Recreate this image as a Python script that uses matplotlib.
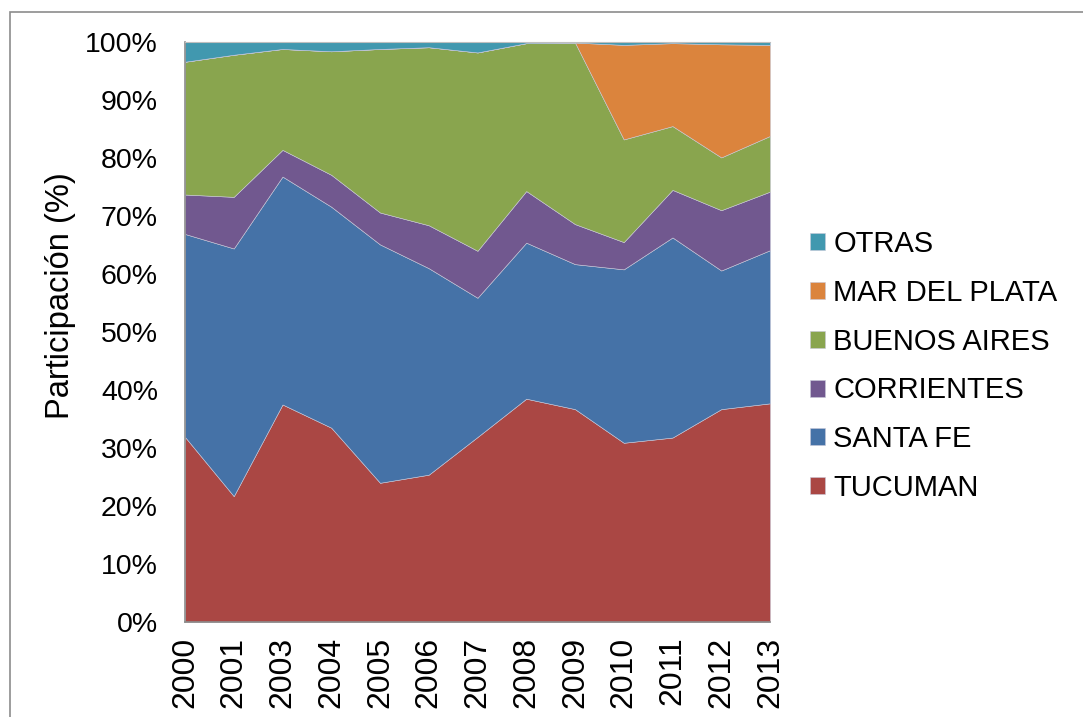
import matplotlib
matplotlib.use("Agg")
import matplotlib.pyplot as plt
from matplotlib.patches import Rectangle
from matplotlib.ticker import FuncFormatter

plt.rcParams['font.family'] = ['Liberation Sans', 'DejaVu Sans']

years = ["2000", "2001", "2003", "2004", "2005", "2006", "2007",
         "2008", "2009", "2010", "2011", "2012", "2013"]
tucuman = [31.9, 21.7, 37.5, 33.5, 24.0, 25.4, 31.9, 38.5, 36.7, 30.9, 31.8, 36.7, 37.7]
santa_fe = [35.0, 42.7, 39.3, 38.1, 41.1, 35.6, 24.0, 26.9, 25.0, 29.9, 34.5, 23.9, 26.4]
corrientes = [6.8, 8.9, 4.6, 5.5, 5.5, 7.4, 8.1, 8.9, 6.9, 4.7, 8.2, 10.4, 10.1]
buenos_aires = [22.9, 24.5, 17.4, 21.3, 28.2, 30.7, 34.2, 25.5, 31.3, 17.7, 11.0, 9.1, 9.6]
mar_del_plata = [0, 0, 0, 0, 0, 0, 0, 0, 0, 16.3, 14.3, 19.5, 15.7]
otras = [3.4, 2.2, 1.2, 1.6, 1.2, 0.9, 1.8, 0.2, 0.1, 0.5, 0.2, 0.4, 0.5]

series_names = ["TUCUMAN", "SANTA FE", "CORRIENTES", "BUENOS AIRES", "MAR DEL PLATA", "OTRAS"]
series = [tucuman, santa_fe, corrientes, buenos_aires, mar_del_plata, otras]
colors = ["#AA4744", "#4572A7", "#71588F", "#89A54E", "#DB843D", "#4198AF"]

W, H = 1083, 717
fig = plt.figure(figsize=(W / 100, H / 100), dpi=100)
# outer chart frame
fig.patches.append(Rectangle((10 / W, -0.05), 1.2, 1 - 12 / H + 0.05,
                             transform=fig.transFigure, fill=False,
                             edgecolor="#8c8c8c", linewidth=1.2))

ax = fig.add_axes([185 / W, 1 - 622 / H, 585 / W, 580 / H])

# normalise to 100% stacked
totals = [sum(v) for v in zip(*series)]
norm = [[val / t * 100 for val, t in zip(s, totals)] for s in series]

x = list(range(len(years)))
ax.stackplot(x, *norm, colors=colors, labels=series_names,
             edgecolor="#c8c8d8", linewidth=0.4)

ax.set_xlim(0, len(years) - 1)
ax.set_ylim(0, 100)
ax.set_yticks(range(0, 101, 10))
ax.yaxis.set_major_formatter(FuncFormatter(lambda v, p: f"{int(v)}%"))
ax.set_xticks(x)
ax.set_xticklabels(years, rotation=90)
ax.tick_params(axis="both", length=0)
ax.tick_params(axis="y", pad=19.5, labelsize=20.5)
ax.tick_params(axis="x", pad=10.5, labelsize=23)

ax.spines["right"].set_visible(False)
ax.spines["top"].set_color("#bfbfbf")
ax.spines["left"].set_color("#8c8c8c")
ax.spines["bottom"].set_color("#8c8c8c")
ax.spines["left"].set_linewidth(1.2)
ax.spines["bottom"].set_linewidth(1.2)

fig.text(61 / W, 1 - 296 / H, "Participación (%)", rotation=90,
         fontsize=23.5, ha="center", va="center")

handles, labels = ax.get_legend_handles_labels()
fig.legend(handles[::-1], labels[::-1], loc="center left",
           bbox_to_anchor=(784 / W, 1 - 366 / H), frameon=False,
           fontsize=21, handlelength=0.52, handleheight=0.52,
           handletextpad=0.27, labelspacing=0.71)

fig.savefig("out.png", dpi=100)
